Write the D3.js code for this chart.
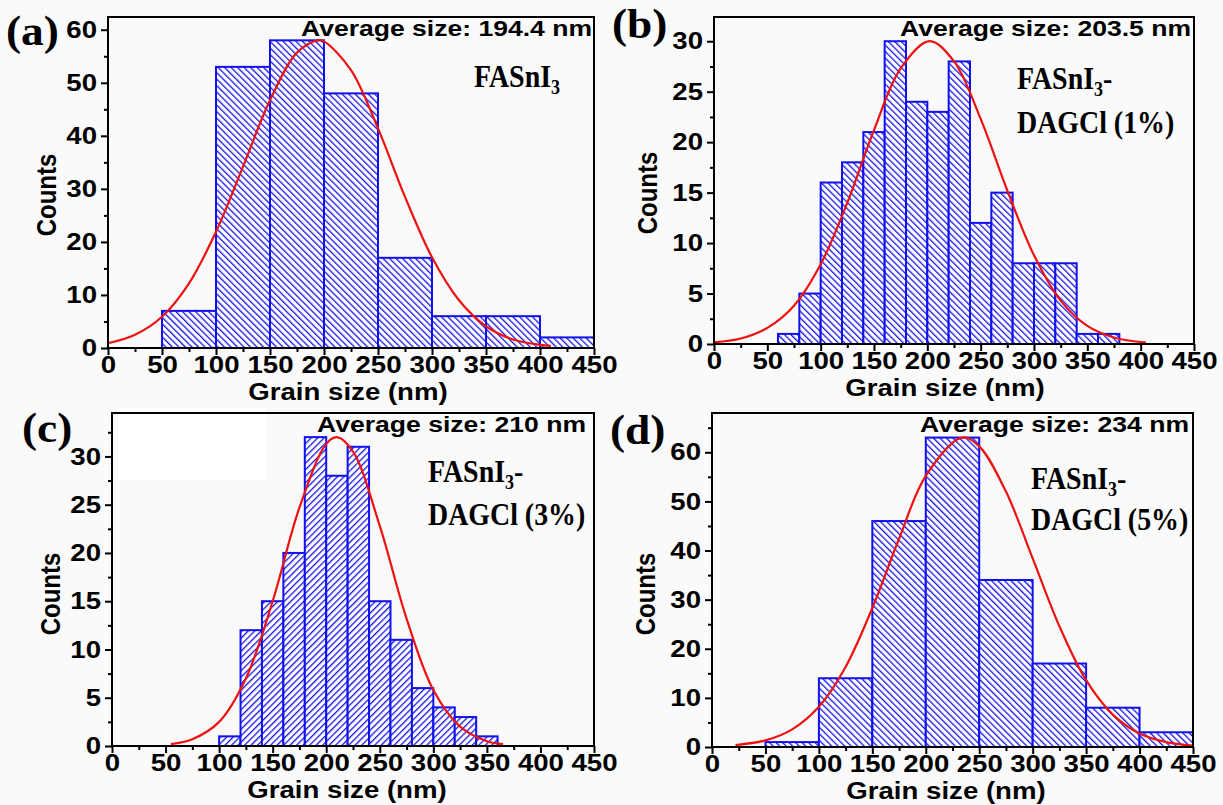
<!DOCTYPE html>
<html>
<head>
<meta charset="utf-8">
<script src="https://cdn.jsdelivr.net/npm/d3@7"></script>
<style>
  body { margin: 0; background: #fff; }
  svg { display: block; }
</style>
</head>
<body>
<div id="fig"></div>
<script>
// --- data ---
// (a) FASnI3
const edgesA = [50, 100, 150, 200, 250, 300, 350, 400, 450];
const countsA = [7, 53, 58, 48, 17, 6, 6, 2];
const fitXA = [0, 25, 50, 75, 100, 125, 150, 175, 194, 200, 225, 250, 275, 300, 325, 350, 375, 400, 410];
const fitYA = [0.9, 2.5, 5.9, 12.2, 21.9, 34.2, 46.7, 55.7, 58, 57.8, 52.4, 41.4, 28.5, 17.1, 9.0, 4.1, 1.6, 0.6, 0.4];

// (b) FASnI3-DAGCl (1%)
const edgesB = [60, 80, 100, 120, 140, 160, 180, 200, 220, 240, 260, 280, 300, 320, 340, 360, 380];
const countsB = [1, 5, 16, 18, 21, 30, 24, 23, 28, 12, 15, 8, 8, 8, 1, 1];
const fitXB = [0, 25, 50, 75, 100, 125, 150, 175, 202, 225, 250, 275, 300, 325, 350, 375, 405];
const fitYB = [0.16, 0.54, 1.6, 3.8, 7.9, 14.0, 21.2, 27.3, 30, 28.0, 22.3, 15.2, 8.8, 4.3, 1.8, 0.65, 0.15];

// (c) FASnI3-DAGCl (3%)
const edgesC = [100, 120, 140, 160, 180, 200, 220, 240, 260, 280, 300, 320, 340, 360];
const countsC = [1, 12, 15, 20, 32, 28, 31, 15, 11, 6, 4, 3, 1];
const fitXC = [55, 75, 100, 125, 150, 175, 200, 210, 225, 250, 275, 300, 325, 350, 365];
const fitYC = [0.2, 0.7, 2.5, 7.0, 15.0, 24.7, 31.3, 32, 30.5, 22.8, 13.2, 5.8, 2.0, 0.5, 0.2];

// (d) FASnI3-DAGCl (5%)
const edgesD = [50, 100, 150, 200, 250, 300, 350, 400, 450];
const countsD = [1, 14, 46, 63, 34, 17, 8, 3];
const fitXD = [22, 50, 75, 100, 125, 150, 175, 200, 234, 250, 275, 300, 325, 350, 375, 400, 425, 450];
const fitYD = [0.4, 1.35, 3.6, 8.2, 16.3, 28.3, 42.4, 55.2, 63, 61.2, 52.0, 38.4, 24.6, 13.6, 6.6, 2.75, 1.0, 0.3];

const xTicks = [0, 50, 100, 150, 200, 250, 300, 350, 400, 450];
const xMinor = [25, 75, 125, 175, 225, 275, 325, 375, 425];

const panelLetters = ['(a)', '(b)', '(c)', '(d)'];
const avgLabels = ['Average size: 194.4 nm', 'Average size: 203.5 nm', 'Average size: 210 nm', 'Average size: 234 nm'];
const sampleNames = [['FASnI', ''], ['FASnI', '-', 'DAGCl (1%)'], ['FASnI', '-', 'DAGCl (3%)'], ['FASnI', '-', 'DAGCl (5%)']];

// layout (pixel boxes of each plot frame)
const panels = [
  { edges: edgesA, counts: countsA, fx: fitXA, fy: fitYA, yMax: 62.4, yStep: 10,
    left: 108, right: 594, top: 17, bottom: 348, hatch: 'back',
    letterX: 6, letterY: 45, countsX: 46, countsY: 195, avgDx: 2, avgY: 36,
    xlabX: 348, nameX: 474, nameY: 87, name2Y: 0 },
  { edges: edgesB, counts: countsB, fx: fitXB, fy: fitYB, yMax: 32.4, yStep: 5,
    left: 714, right: 1194, top: 17, bottom: 344, hatch: 'back',
    letterX: 612, letterY: 38, countsX: 647, countsY: 193, avgDx: 3, avgY: 36,
    xlabX: 945, nameX: 1017, nameY: 89, name2Y: 133 },
  { edges: edgesC, counts: countsC, fx: fitXC, fy: fitYC, yMax: 34.5, yStep: 5,
    left: 112, right: 594, top: 413, bottom: 746, hatch: 'fwd',
    letterX: 22, letterY: 442, countsX: 50, countsY: 594, avgDx: 8, avgY: 432,
    xlabX: 347, nameX: 428, nameY: 482, name2Y: 525 },
  { edges: edgesD, counts: countsD, fx: fitXD, fy: fitYD, yMax: 68, yStep: 10,
    left: 712, right: 1193, top: 413, bottom: 747, hatch: 'back',
    letterX: 610, letterY: 444, countsX: 645, countsY: 594, avgDx: 4, avgY: 432,
    xlabX: 946, nameX: 1031, nameY: 489, name2Y: 530 }
];

const W = 1223, H = 805;
const SX = 1.15;   // sans labels in the source are a little wide
const sans = 'Arial, "Liberation Sans", sans-serif';
const serif = '"Times New Roman", "Liberation Serif", serif';

const svg = d3.select('#fig').append('svg')
  .attr('width', W).attr('height', H);

svg.append('rect').attr('width', W).attr('height', H).attr('fill', '#fafafa');
// white patch seen in panel (c)
svg.append('rect').attr('x', 118).attr('y', 408).attr('width', 148).attr('height', 72).attr('fill', '#fff');

// hatch patterns
const defs = svg.append('defs');
[['back', -45], ['fwd', 45]].forEach(([id, ang]) => {
  const p = defs.append('pattern')
    .attr('id', 'hatch-' + id)
    .attr('patternUnits', 'userSpaceOnUse')
    .attr('width', 4.6).attr('height', 4.6)
    .attr('patternTransform', `rotate(${ang})`);
  p.append('rect').attr('width', 4.6).attr('height', 4.6).attr('fill', '#fff');
  p.append('line')
    .attr('x1', 0).attr('y1', -1).attr('x2', 0).attr('y2', 6)
    .attr('stroke', '#1414e8').attr('stroke-width', 2.6);
});

// wide bold sans text
function wideText(g, x, y, str, anchor, size, sx) {
  return g.append('text')
    .attr('transform', `translate(${x},${y}) scale(${sx},1)`)
    .attr('text-anchor', anchor)
    .style('font-family', sans).style('font-weight', 'bold').style('font-size', size + 'px')
    .text(str);
}

// tall bold serif text
function serifText(g, x, y, size) {
  return g.append('text')
    .attr('transform', `translate(${x},${y}) scale(0.9,1)`)
    .style('font-family', serif).style('font-weight', 'bold').style('font-size', size + 'px');
}

panels.forEach((p, i) => {
  const x = d3.scaleLinear().domain([0, 450]).range([p.left, p.right]);
  const y = d3.scaleLinear().domain([0, p.yMax]).range([p.bottom, p.top]);
  const g = svg.append('g');

  // bars
  g.selectAll('rect.bar')
    .data(p.counts)
    .join('rect')
    .attr('class', 'bar')
    .attr('x', (d, k) => x(p.edges[k]))
    .attr('width', (d, k) => x(p.edges[k + 1]) - x(p.edges[k]))
    .attr('y', d => y(d))
    .attr('height', d => y(0) - y(d))
    .attr('fill', `url(#hatch-${p.hatch})`)
    .attr('stroke', '#1010f0')
    .attr('stroke-width', 2);

  // gaussian fit
  const line = d3.line()
    .x(d => x(d[0]))
    .y(d => y(d[1]))
    .curve(d3.curveCatmullRom);
  g.append('path')
    .datum(p.fx.map((v, k) => [v, p.fy[k]]))
    .attr('d', line)
    .attr('fill', 'none')
    .attr('stroke', '#ee1111')
    .attr('stroke-width', 2.2);

  // frame
  g.append('rect')
    .attr('x', p.left).attr('y', p.top)
    .attr('width', p.right - p.left).attr('height', p.bottom - p.top)
    .attr('fill', 'none').attr('stroke', '#000').attr('stroke-width', 2);

  // axes
  const yMajor = d3.range(0, p.yMax, p.yStep);
  const yMinor = d3.range(p.yStep / 2, p.yMax, p.yStep);

  const styleAxis = sel => {
    sel.select('.domain').remove();
    sel.selectAll('line').attr('stroke', '#000').attr('stroke-width', 2);
    sel.selectAll('text')
      .attr('fill', '#000')
      .style('font-family', sans)
      .style('font-weight', 'bold')
      .style('font-size', '24px');
  };

  g.append('g')
    .attr('transform', `translate(0,${p.bottom})`)
    .call(d3.axisBottom(x).tickValues(xTicks).tickSize(7).tickPadding(1))
    .call(styleAxis)
    .selectAll('text').attr('transform', `scale(${SX},1)`);
  g.append('g')
    .attr('transform', `translate(0,${p.bottom})`)
    .call(d3.axisBottom(x).tickValues(xMinor).tickSize(4).tickFormat(''))
    .call(styleAxis);
  g.append('g')
    .attr('transform', `translate(${p.left},0)`)
    .call(d3.axisLeft(y).tickValues(yMajor).tickSize(7).tickPadding(4))
    .call(styleAxis)
    .selectAll('text')
    .attr('x', -11 / SX)
    .attr('transform', `scale(${SX},1)`);
  g.append('g')
    .attr('transform', `translate(${p.left},0)`)
    .call(d3.axisLeft(y).tickValues(yMinor).tickSize(4).tickFormat(''))
    .call(styleAxis);

  // axis titles
  wideText(g, p.xlabX, p.bottom + 52, 'Grain size (nm)', 'middle', 24, SX);
  g.append('text')
    .attr('transform', `translate(${p.countsX},${p.countsY}) scale(${SX},1) rotate(-90)`)
    .attr('text-anchor', 'middle')
    .attr('dy', '0.35em')
    .style('font-family', sans).style('font-weight', 'bold').style('font-size', '24px')
    .text('Counts');

  // average size
  wideText(g, p.right - p.avgDx, p.avgY, avgLabels[i], 'end', 22.5, 1.18);

  // panel letter
  g.append('text')
    .attr('transform', `translate(${p.letterX},${p.letterY}) scale(1.08,1)`)
    .style('font-family', serif).style('font-weight', 'bold').style('font-size', '42px')
    .text(panelLetters[i]);

  // sample name
  const nm = sampleNames[i];
  const t = serifText(g, p.nameX, p.nameY, 31);
  t.append('tspan').text(nm[0]);
  t.append('tspan').attr('dy', 7).style('font-size', '20px').text('3');
  if (nm[1]) t.append('tspan').attr('dy', -7).text(nm[1]);
  if (nm[2]) serifText(g, p.nameX, p.name2Y, 31).text(nm[2]);
});
</script>
</body>
</html>
